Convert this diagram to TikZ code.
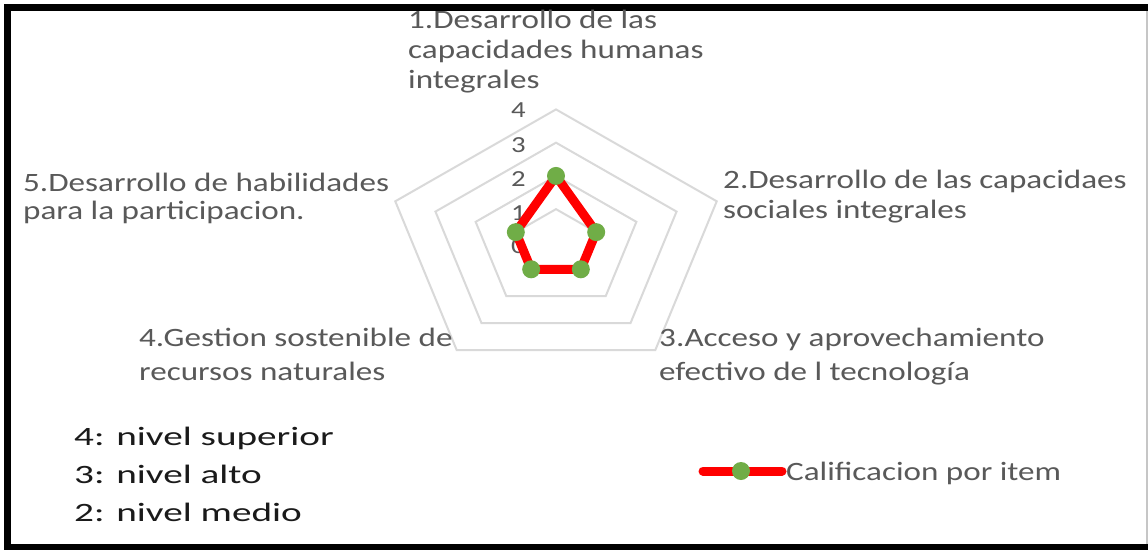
\documentclass[tikz,border=0pt]{standalone}
\usepackage{fontspec}
\setmainfont[FakeStretch=1.25]{Carlito}
\newfontfamily\legfont[FakeStretch=1.48]{Carlito}
\definecolor{txtgray}{HTML}{595959}
\definecolor{gridgray}{HTML}{D9D9D9}
\definecolor{mkgreen}{HTML}{70AD47}
\definecolor{datared}{HTML}{FF0000}
\definecolor{legdark}{HTML}{1A1A1A}
\tikzset{
  lbl/.style={inner sep=0pt, anchor=base west, text=txtgray, font=\fontsize{26.5}{30}\selectfont},
  ticklbl/.style={inner sep=0pt, anchor=east, text=txtgray, font=\fontsize{23}{27}\selectfont},
  levellbl/.style={inner sep=0pt, anchor=base west, text=legdark, font=\legfont\fontsize{26.5}{32}\selectfont},
  gridline/.style={draw=gridgray, line width=2pt, line join=miter},
  dataline/.style={draw=datared, line width=9pt, line join=round, line cap=round},
  marker/.style={circle, fill=mkgreen, draw=none, minimum size=18pt, inner sep=0pt},
  framebar/.style={fill=black, draw=none}
}
\begin{document}
\begin{tikzpicture}[x=1pt,y=-1pt]
\useasboundingbox (0,0) rectangle (1148,550);
\fill[white] (0,0) rectangle (1148,550);
% frame
\fill[framebar] (4,4) rectangle (1148,11);
\fill[framebar] (4,4) rectangle (11,550);
\fill[framebar] (4,544) rectangle (1148,550);
\draw[gray!45, line width=1.5pt] (1147,11) -- (1147,544);
% radar grid
\def\cx{556}
\def\cy{242.4}
\def\ux{42.25}
\def\uy{33.25}
\foreach \r in {1,2,3,4}{
  \draw[gridline] ({\cx},{\cy-\r*\uy})
    \foreach \k in {1,2,3,4}{ -- ({\cx+\r*\ux*cos(90-72*\k)},{\cy-\r*\uy*sin(90-72*\k)}) } -- cycle;
}
% tick labels
\node[ticklbl] (t4) at (526,{\cy-4*\uy+1}) {4};
\node[ticklbl] (t3) at (526,{\cy-3*\uy+2}) {3};
\node[ticklbl] (t2) at (526,{\cy-2*\uy+3}) {2};
\node[ticklbl] (t1) at (526,{\cy-1*\uy+4}) {1};
\node[ticklbl] (t0) at (526,{\cy+4}) {0};
% data
\coordinate (d1) at ({\cx},{\cy-2*\uy});
\coordinate (d2) at ({\cx+\ux*cos(18)},{\cy-\uy*sin(18)});
\coordinate (d3) at ({\cx+\ux*cos(-54)},{\cy-\uy*sin(-54)});
\coordinate (d4) at ({\cx+\ux*cos(-126)},{\cy-\uy*sin(-126)});
\coordinate (d5) at ({\cx+\ux*cos(162)},{\cy-\uy*sin(162)});
\draw[dataline] (d1) -- (d2) -- (d3) -- (d4) -- (d5) -- cycle;
\foreach \i in {1,...,5}{ \node[marker] (m\i) at (d\i) {}; }
% axis labels
\node[lbl] (l1a) at (408,28) {1.Desarrollo de las};
\node[lbl] (l1b) at (408,58) {capacidades humanas};
\node[lbl] (l1c) at (408,88) {integrales};
\node[lbl] (l2a) at (723,188) {2.Desarrollo de las capacidaes};
\node[lbl] (l2b) at (723,218) {sociales integrales};
\node[lbl] (l3a) at (659,346) {3.Acceso y aprovechamiento};
\node[lbl] (l3b) at (659,380) {efectivo de l tecnología};
\node[lbl] (l4a) at (139,346) {4.Gestion sostenible de};
\node[lbl] (l4b) at (139,380) {recursos naturales};
\node[lbl] (l5a) at (23,191) {5.Desarrollo de habilidades};
\node[lbl] (l5b) at (23,219) {para la participacion.};
% level legend
\node[levellbl] (v4) at (74,445) {4: nivel superior};
\node[levellbl] (v3) at (74,483) {3: nivel alto};
\node[levellbl] (v2) at (74,521) {2: nivel medio};
% series legend
\coordinate (lgA) at (703,471);
\coordinate (lgB) at (782,471);
\draw[dataline] (lgA) -- (lgB);
\node[marker] (lgM) at (741,471) {};
\node[lbl] (lgT) at (786,480) {Calificacion por item};
\end{tikzpicture}
\end{document}
